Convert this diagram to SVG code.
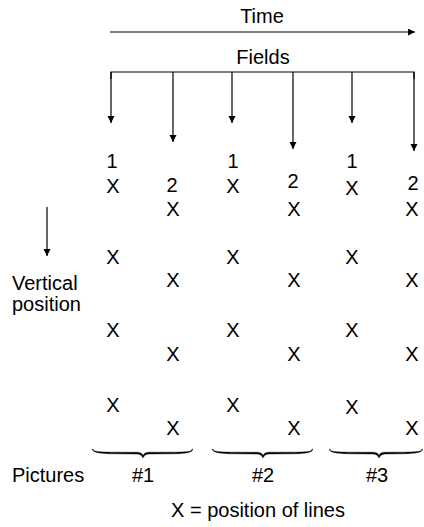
<svg xmlns="http://www.w3.org/2000/svg" width="424" height="527" viewBox="0 0 424 527">
<defs>
<marker id="ah" markerWidth="8" markerHeight="8" refX="7" refY="3.5" orient="auto" markerUnits="userSpaceOnUse">
<path d="M0,0 L7,3.5 L0,7 Z" fill="#000"/>
</marker>
<style>
text{font-family:"Liberation Sans",Arial,sans-serif;font-size:20px;fill:#000}
.m{text-anchor:middle}
.ln{stroke:#000;stroke-width:1.2;fill:none}
.ar{stroke:#000;stroke-width:1.2;fill:none;marker-end:url(#ah)}
.br{fill:#000;stroke:#000;stroke-width:0.4}
</style>
</defs>
<rect width="424" height="527" fill="#fff"/>
<g id="connectors">
<line class="ar" x1="110" y1="32" x2="415" y2="32"/>
<polyline class="ln" points="111,79 111,72 414,72 414,79"/>
<line class="ar" x1="111" y1="72" x2="111" y2="123"/>
<line class="ar" x1="173" y1="72" x2="173" y2="142"/>
<line class="ar" x1="232" y1="72" x2="232" y2="123"/>
<line class="ar" x1="293" y1="72" x2="293" y2="149"/>
<line class="ar" x1="352" y1="72" x2="352" y2="123"/>
<line class="ar" x1="414" y1="72" x2="414" y2="151"/>
<line class="ar" x1="47" y1="207" x2="47" y2="256"/>
</g>
<g id="time"><text class="m" x="262" y="23">Time</text></g>
<g id="fields"><text class="m" x="263" y="64">Fields</text></g>
<g id="vertical"><text x="12" y="290">Vertical</text><text x="12" y="311">position</text></g>
<g id="field-labels">
<text class="m" x="112" y="168">1</text>
<text class="m" x="233" y="168">1</text>
<text class="m" x="352" y="168">1</text>
<text class="m" x="172" y="192">2</text>
<text class="m" x="293" y="188">2</text>
<text class="m" x="413" y="190">2</text>
</g>
<g id="marks">
<text class="m" x="113" y="193">X</text>
<text class="m" x="113" y="264">X</text>
<text class="m" x="113" y="337">X</text>
<text class="m" x="113" y="412">X</text>
<text class="m" x="173" y="216">X</text>
<text class="m" x="173" y="287">X</text>
<text class="m" x="173" y="361">X</text>
<text class="m" x="173" y="435">X</text>
<text class="m" x="233" y="193">X</text>
<text class="m" x="233" y="264">X</text>
<text class="m" x="233" y="337">X</text>
<text class="m" x="233" y="412">X</text>
<text class="m" x="294" y="216">X</text>
<text class="m" x="294" y="287">X</text>
<text class="m" x="294" y="361">X</text>
<text class="m" x="294" y="435">X</text>
<text class="m" x="352" y="195">X</text>
<text class="m" x="352" y="264">X</text>
<text class="m" x="352" y="337">X</text>
<text class="m" x="352" y="414">X</text>
<text class="m" x="412" y="216">X</text>
<text class="m" x="412" y="287">X</text>
<text class="m" x="412" y="361">X</text>
<text class="m" x="412" y="435">X</text>
</g>
<g id="brace1"><path class="br" d="M93,449 C93,451.5 97,452 113,452.2 L137,452.2 C140,452.2 142,453 143,455.5 C144,453 146,452.2 149,452.2 L173,452.2 C189,452 192,451.5 192,449 L192.6,449 C192.6,452 189,453.5 173,453.8 L150,454 C146,454 144.5,455 143,458 C141.5,455 140,454 136,454 L113,453.8 C97,453.5 92.4,452 92.4,449 Z"/></g>
<g id="brace2"><path class="br" d="M213,449 C213,451.5 217,452 233,452.2 L257,452.2 C260,452.2 262,453 263,455.5 C264,453 266,452.2 269,452.2 L293,452.2 C309,452 312,451.5 312,449 L312.6,449 C312.6,452 309,453.5 293,453.8 L270,454 C266,454 264.5,455 263,458 C261.5,455 260,454 256,454 L233,453.8 C217,453.5 212.4,452 212.4,449 Z"/></g>
<g id="brace3"><path class="br" d="M330,449 C330,451.5 334,452 350,452.2 L373,452.2 C376,452.2 378,453 379,455.5 C380,453 382,452.2 385,452.2 L402,452.2 C418,452 422,451.5 422,449 L422.6,449 C422.6,452 418,453.5 402,453.8 L386,454 C382,454 380.5,455 379,458 C377.5,455 376,454 372,454 L350,453.8 C334,453.5 329.4,452 329.4,449 Z"/></g>
<g id="pictures">
<text x="12" y="482">Pictures</text>
<text class="m" x="143" y="482">#1</text>
<text class="m" x="263" y="482">#2</text>
<text class="m" x="377" y="482">#3</text>
</g>
<g id="legend"><text class="m" x="258" y="517">X = position of lines</text></g>
</svg>
